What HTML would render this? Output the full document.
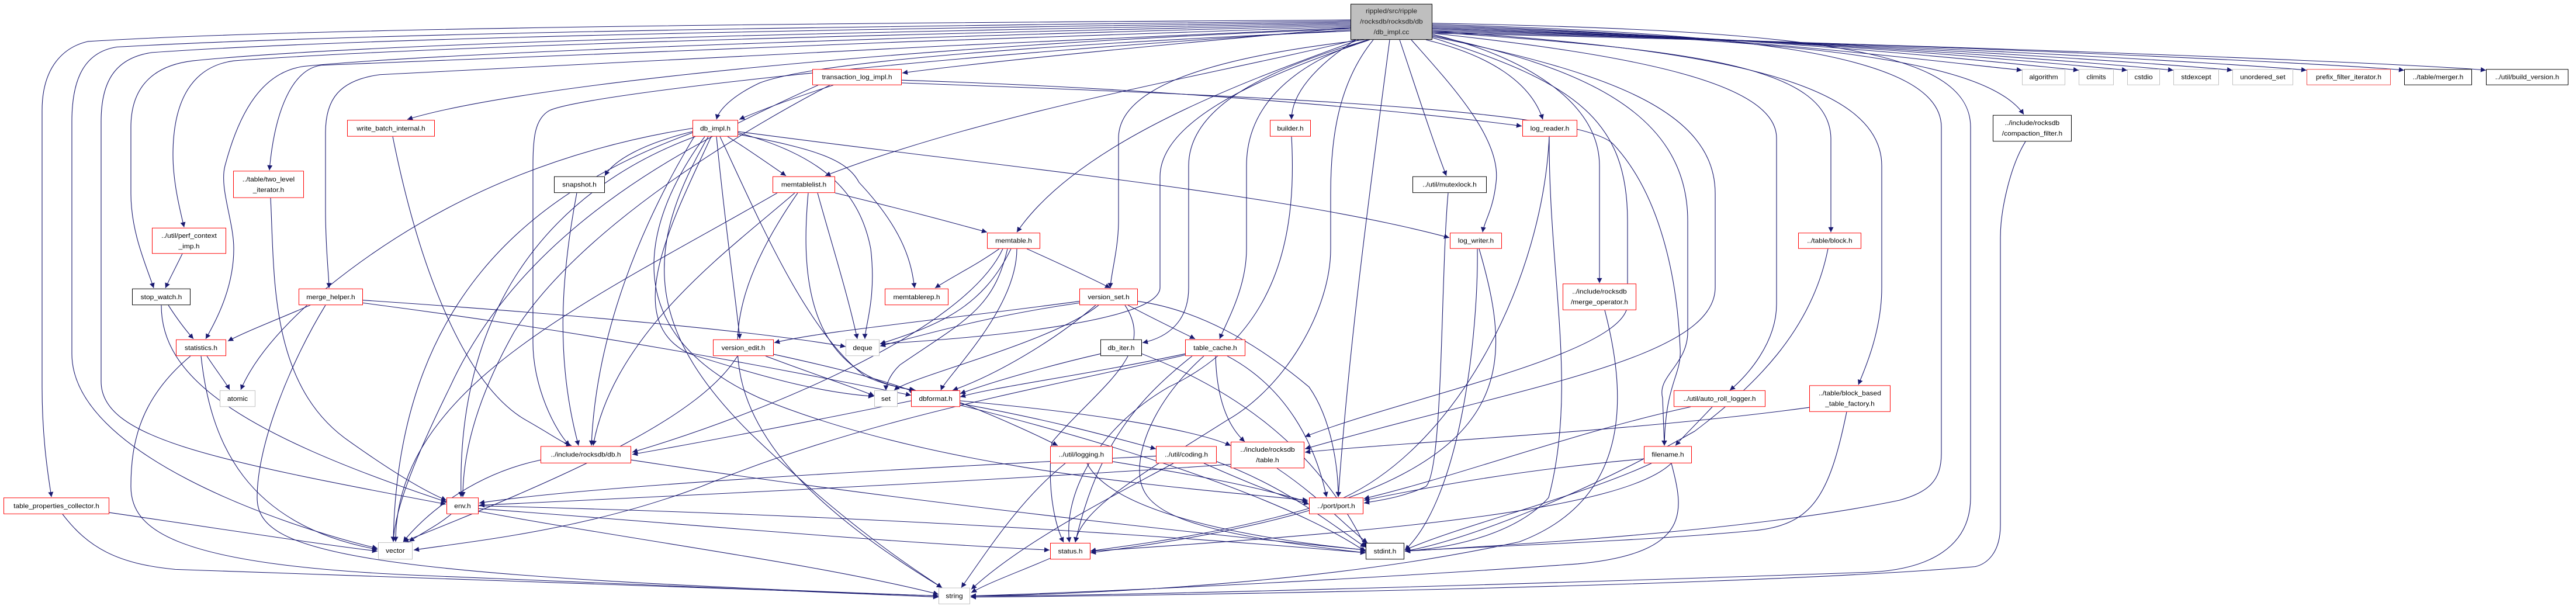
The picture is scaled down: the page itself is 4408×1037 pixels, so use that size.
<!DOCTYPE html>
<html><head><meta charset="utf-8">
<style>
html,body{margin:0;padding:0;background:#fff;overflow:hidden;}
#c{position:relative;width:4408px;height:1037px;overflow:hidden;background:#fff;}
#w{position:absolute;left:0;top:0;width:4408px;height:1100px;transform:scaleY(0.946);transform-origin:0 0;}
svg{position:absolute;left:0;top:0;}
.n{position:absolute;box-sizing:border-box;background:#fff;border:1.6px solid #f00;font-family:"Liberation Sans",sans-serif;font-size:12px;color:#000;display:flex;align-items:center;justify-content:center;text-align:center;line-height:19px;white-space:nowrap;}
.k{border-color:#000;}
.g{border-color:#c0c0c0;}
.r{border-color:#f00;}
</style></head><body>
<div id="c"><div id="w">
<svg id="s" width="4408" height="1100" viewBox="0 0 4408 1100">
<defs><marker id="a" viewBox="0 0 10 10" refX="10" refY="5" markerWidth="12" markerHeight="9" markerUnits="userSpaceOnUse" orient="auto"><path d="M0,0 L10,5 L0,10 z" fill="#191970"/></marker></defs>
<g id="e" fill="none" stroke="#191970" stroke-width="1.1" marker-end="url(#a)"></g>
</svg>

<div class="n k" style="left:2311px;top:7px;width:140px;height:65px;background:#bfbfbf;color:#222">rippled/src/ripple<br>/rocksdb/rocksdb/db<br>/db_impl.cc</div>

<div class="n r" style="left:6px;top:900px;width:181px;height:30px">table_properties_collector.h</div>
<div class="n k" style="left:226px;top:522px;width:100px;height:30px">stop_watch.h</div>
<div class="n r" style="left:260px;top:412px;width:127px;height:47px">../util/perf_context<br>_imp.h</div>
<div class="n r" style="left:399px;top:309px;width:121px;height:49px">../table/two_level<br>_iterator.h</div>
<div class="n r" style="left:594px;top:217px;width:150px;height:30px">write_batch_internal.h</div>
<div class="n r" style="left:511px;top:522px;width:110px;height:30px">merge_helper.h</div>
<div class="n r" style="left:301px;top:614px;width:86px;height:30px">statistics.h</div>
<div class="n g" style="left:376px;top:706px;width:61px;height:30px">atomic</div>
<div class="n k" style="left:948px;top:319px;width:87px;height:30px">snapshot.h</div>
<div class="n r" style="left:925px;top:807px;width:155px;height:31px">../include/rocksdb/db.h</div>
<div class="n r" style="left:764px;top:900px;width:55px;height:30px">env.h</div>
<div class="n g" style="left:647px;top:981px;width:59px;height:31px">vector</div>

<div class="n r" style="left:1390px;top:125px;width:153px;height:29px">transaction_log_impl.h</div>
<div class="n r" style="left:1185px;top:217px;width:78px;height:30px">db_impl.h</div>
<div class="n r" style="left:1322px;top:319px;width:107px;height:30px">memtablelist.h</div>
<div class="n r" style="left:1689px;top:421px;width:91px;height:29px">memtable.h</div>
<div class="n r" style="left:1514px;top:522px;width:109px;height:30px">memtablerep.h</div>
<div class="n r" style="left:1847px;top:522px;width:100px;height:30px">version_set.h</div>
<div class="n r" style="left:1220px;top:614px;width:104px;height:30px">version_edit.h</div>
<div class="n g" style="left:1447px;top:614px;width:58px;height:30px">deque</div>
<div class="n k" style="left:1883px;top:614px;width:71px;height:30px">db_iter.h</div>
<div class="n r" style="left:2028px;top:614px;width:103px;height:30px">table_cache.h</div>
<div class="n g" style="left:1496px;top:706px;width:40px;height:30px">set</div>
<div class="n r" style="left:1559px;top:706px;width:84px;height:30px">dbformat.h</div>
<div class="n r" style="left:1797px;top:807px;width:107px;height:31px">../util/logging.h</div>
<div class="n r" style="left:1978px;top:807px;width:104px;height:31px">../util/coding.h</div>
<div class="n r" style="left:2106px;top:799px;width:126px;height:48px">../include/rocksdb<br>/table.h</div>
<div class="n r" style="left:1797px;top:982px;width:69px;height:30px">status.h</div>
<div class="n g" style="left:1606px;top:1063px;width:54px;height:30px">string</div>
<div class="n r" style="left:2173px;top:217px;width:70px;height:30px">builder.h</div>

<div class="n r" style="left:2605px;top:217px;width:94px;height:30px">log_reader.h</div>
<div class="n k" style="left:2417px;top:319px;width:127px;height:30px">../util/mutexlock.h</div>
<div class="n r" style="left:2481px;top:421px;width:89px;height:29px">log_writer.h</div>
<div class="n r" style="left:3077px;top:421px;width:108px;height:29px">../table/block.h</div>
<div class="n r" style="left:2674px;top:513px;width:126px;height:48px">../include/rocksdb<br>/merge_operator.h</div>
<div class="n r" style="left:2864px;top:706px;width:157px;height:30px">../util/auto_roll_logger.h</div>
<div class="n r" style="left:3096px;top:697px;width:139px;height:48px">../table/block_based<br>_table_factory.h</div>
<div class="n r" style="left:2813px;top:807px;width:82px;height:31px">filename.h</div>
<div class="n r" style="left:2240px;top:900px;width:93px;height:30px">../port/port.h</div>
<div class="n k" style="left:2337px;top:982px;width:66px;height:30px">stdint.h</div>

<div class="n g" style="left:3460px;top:125px;width:74px;height:29px">algorithm</div>
<div class="n g" style="left:3557px;top:125px;width:60px;height:29px">climits</div>
<div class="n g" style="left:3640px;top:125px;width:56px;height:29px">cstdio</div>
<div class="n g" style="left:3719px;top:125px;width:78px;height:29px">stdexcept</div>
<div class="n g" style="left:3820px;top:125px;width:104px;height:29px">unordered_set</div>
<div class="n r" style="left:3947px;top:125px;width:144px;height:29px;border-color:#e44">prefix_filter_iterator.h</div>
<div class="n k" style="left:4114px;top:125px;width:116px;height:29px">../table/merger.h</div>
<div class="n k" style="left:4254px;top:125px;width:141px;height:29px">../util/build_version.h</div>
<div class="n k" style="left:3410px;top:208px;width:135px;height:48px">../include/rocksdb<br>/compaction_filter.h</div>
</div></div>
<script>
var P=[
"M2311,36 C1800,40 600,45 150,75 C110,85 72,120 72,200 L72,700 C72,800 84,870 88,899",
"M2311,38 C1800,44 700,55 200,85 C140,95 123,150 123,220 L123,640 C123,820 480,950 646,992",
"M2311,40 C1800,48 700,62 260,95 C195,105 173,150 173,220 L173,690 C173,790 350,830 763,912",
"M2311,42 C1800,52 700,70 330,110 C250,120 224,170 224,230 L224,350 C224,420 250,480 263,521",
"M2311,44 C1800,56 800,78 400,110 C330,120 296,180 296,280 C296,330 308,380 315,411",
"M2311,46 C1800,60 800,90 520,120 C450,130 410,200 385,300 C375,340 400,400 400,450 C400,520 370,580 352,613",
"M2311,48 C1800,65 900,100 550,118 C500,125 470,200 461,308",
"M2311,50 C1800,72 900,120 650,135 C580,145 557,180 557,240 L557,380 C557,450 563,500 563,521",
"M2311,52 C1600,80 900,150 697,216",
"M2311,54 C1600,100 1000,170 940,200 C915,215 912,250 912,300 L912,620 C912,700 950,780 975,806",
"M2311,50 C2000,80 1700,110 1544,132",
"M2311,56 C1800,80 1400,110 1300,150 C1250,175 1230,200 1226,216",
"M2320,72 C2100,130 1700,200 1412,318",
"M2325,72 C2150,140 1850,250 1740,420",
"M2335,72 C2100,100 1914,150 1914,250 L1914,400 C1914,450 1900,500 1900,521",
"M2340,72 C2200,120 2133,200 2133,300 L2133,450 C2133,520 2100,580 2087,613",
"M2342,72 C2150,130 2034,200 2034,300 L2034,520 C2034,580 2000,610 1955,620",
"M2344,72 C2150,140 1985,220 1985,320 L1985,520 C1985,580 1700,610 1506,622",
"M2320,72 C2250,120 2210,170 2210,216",
"M2440,72 C2550,100 2620,150 2640,216",
"M2395,72 C2420,150 2450,250 2475,318",
"M2415,72 C2480,150 2570,250 2560,330 C2555,380 2540,400 2537,420",
"M2378,72 C2350,300 2310,600 2290,899",
"M2350,72 C2290,150 2277,250 2277,350 L2277,450 C2277,560 2200,700 2100,760 C1950,860 1850,920 1840,981",
"M2451,62 C2600,100 2737,180 2737,300 L2737,512",
"M2451,58 C2900,90 3130,120 3133,250 L3133,420",
"M2451,56 C2950,90 3220,150 3220,300 L3220,520 C3220,600 3190,670 3180,696",
"M2451,60 C2800,100 3040,150 3040,250 L3040,550 C3040,620 2990,680 2960,706",
"M2451,64 C2700,120 2888,200 2888,400 L2888,600 C2888,660 2835,680 2845,720 L2848,806",
"M2451,66 C2750,130 2935,200 2935,350 L2935,520 C2935,650 2600,700 2233,812",
"M2451,68 C2700,150 2785,220 2785,400 L2785,550 C2785,640 2400,720 2233,790",
"M2451,44 C3000,60 3322,100 3322,230 L3322,820 C3322,870 3300,890 3250,905 C3000,960 2600,985 2404,997",
"M2451,42 C3100,55 3372,90 3372,230 L3372,900 C3372,990 3300,1030 3200,1035 C2800,1050 1900,1080 1661,1078",
"M3466,256 C3440,300 3423,380 3423,430 L3423,950 C3423,1000 3400,1020 3380,1025 C3000,1060 2000,1078 1661,1080",
"M2451,52 C3100,70 3400,110 3463,207",
"M1426,154 C1350,180 1300,200 1265,216",
"M1543,145 C2000,160 2400,200 2604,228",
"M1543,150 C2200,175 2700,200 2760,260 C2840,350 2870,500 2875,630 C2878,680 2850,690 2848,806",
"M1400,154 C1200,250 900,400 770,700 C700,850 675,930 673,980",
"M1420,154 C1300,220 1000,400 880,600 C800,750 792,850 792,899",
"M1245,247 C1280,270 1320,300 1345,318",
"M1263,243 C1400,270 1450,290 1470,330 C1550,420 1560,480 1565,521",
"M1263,240 C1400,280 1470,340 1490,450 C1500,540 1480,590 1480,613",
"M1226,247 C1240,400 1260,550 1266,613",
"M1232,247 C1300,400 1380,600 1480,680 C1520,700 1560,705 1565,706",
"M1217,247 C1150,400 1060,580 1180,640 C1300,680 1400,710 1495,717",
"M1263,238 C1700,300 2200,350 2480,430",
"M1206,247 C1100,400 1050,600 1300,720 C1600,850 2000,880 2238,905",
"M1212,247 C1100,450 1100,600 1300,800 C1450,950 1550,1020 1612,1063",
"M1185,238 C1100,260 1050,290 1035,318",
"M1188,247 C1100,400 1020,600 1012,806",
"M1185,232 C900,280 700,400 560,520 C470,600 430,660 412,705",
"M1190,247 C1000,320 780,500 789,899",
"M1185,240 C900,350 680,550 673,980",
"M1429,349 C1550,380 1620,400 1689,420",
"M1399,349 C1420,430 1450,530 1467,613",
"M1383,349 C1370,500 1380,680 1567,706",
"M1360,349 C1250,450 1050,600 1015,806",
"M1365,349 C1200,600 1200,800 1612,1063",
"M1330,349 C1000,550 677,700 677,980",
"M1710,450 C1670,480 1630,500 1600,521",
"M1757,450 C1820,480 1870,505 1900,521",
"M1730,450 C1680,560 1600,590 1506,622",
"M1740,450 C1740,560 1620,680 1610,706",
"M1724,450 C1700,560 1650,580 1540,660 C1520,680 1516,700 1516,706",
"M1716,450 C1650,600 1300,750 1082,818",
"M1847,545 C1600,580 1400,600 1325,620",
"M1847,548 C1700,570 1600,600 1506,626",
"M1880,552 C1800,620 1560,680 1530,706",
"M1875,552 C1800,620 1700,680 1630,706",
"M1930,552 C1980,580 2020,600 2045,613",
"M1947,545 C2050,560 2150,620 2240,700 C2280,760 2290,850 2290,899",
"M1925,552 C1980,640 1880,700 1800,800 C1790,900 1810,960 1820,981",
"M1310,644 C1400,680 1460,700 1496,716",
"M1320,640 C1450,670 1520,690 1567,710",
"M1262,644 C1200,750 1000,850 690,980",
"M1883,640 C1800,660 1700,690 1643,712",
"M1954,640 C2100,700 2250,800 2337,990",
"M2028,640 C1850,680 1700,700 1643,718",
"M2080,644 C2082,720 2100,770 2130,799",
"M2060,644 C1980,720 1950,800 1950,850 C1950,920 2000,960 2337,1000",
"M2100,644 C2200,700 2250,800 2270,899",
"M2040,644 C1950,720 1880,800 1840,981",
"M2028,642 C1800,700 1500,750 1200,880 C1000,960 800,980 708,995",
"M1559,725 C1400,760 1200,800 1082,822",
"M1643,728 C1720,760 1780,790 1810,806",
"M1643,730 C1800,760 1900,790 1978,812",
"M1643,725 C1900,750 2050,780 2106,806",
"M1643,733 C1900,800 2200,900 2337,998",
"M1823,838 C1750,900 1700,980 1645,1063",
"M1904,835 C2050,860 2150,880 2238,908",
"M1860,838 C1900,920 2100,970 2337,995",
"M2008,838 C1900,900 1750,980 1662,1066",
"M2060,838 C2150,880 2200,900 2240,912",
"M2082,835 C2200,880 2280,950 2337,990",
"M1978,825 C1500,850 1000,880 820,910",
"M2185,847 C2260,900 2300,950 2340,982",
"M2106,840 C1700,870 1100,900 820,914",
"M1797,1010 C1730,1040 1690,1055 1662,1072",
"M772,930 C750,950 720,965 700,980",
"M819,925 C1100,980 1400,1020 1606,1075",
"M819,920 C1200,950 1500,980 1796,995",
"M819,915 C1400,930 1900,960 2337,1000",
"M925,832 C800,860 720,940 690,980",
"M1080,832 C1500,900 2000,960 2337,995",
"M2813,830 C2600,850 2450,880 2334,905",
"M2826,838 C2700,900 2500,950 2404,995",
"M2860,838 C2780,920 2400,960 1866,997",
"M2860,838 C2880,920 2900,1000 2700,1020 C2300,1050 1900,1070 1661,1078",
"M2930,736 C2900,770 2880,790 2867,806",
"M2893,736 C2700,780 2500,860 2334,902",
"M3096,737 C2800,780 2400,800 2233,818",
"M3160,745 C3130,900 3100,950 3000,960 C2800,980 2500,990 2404,997",
"M3128,450 C3100,600 3000,700 2900,780 C2700,900 2500,980 2404,997",
"M2746,561 C2780,700 2800,900 2600,980 C2300,1050 1900,1075 1661,1078",
"M2528,450 C2530,600 2500,900 2404,995",
"M2531,450 C2600,700 2600,900 1866,1000",
"M2651,247 C2650,500 2700,700 2650,900 C2600,960 2500,990 2404,997",
"M2651,247 C2640,500 2500,800 2300,900 C2100,970 1900,990 1866,997",
"M2478,349 C2465,500 2470,850 2440,880 C2400,900 2360,905 2334,910",
"M2210,247 C2218,400 2200,600 2000,700 C1870,780 1820,900 1830,981",
"M672,247 C720,500 800,700 900,760 C950,790 960,800 978,806",
"M463,358 C470,500 460,700 600,800 C680,860 730,890 764,905",
"M312,459 C300,485 290,505 283,521",
"M288,552 C305,580 320,600 331,613",
"M276,552 C276,680 400,780 764,908",
"M531,552 C470,580 420,600 390,617",
"M621,543 C1000,570 1300,600 1447,627",
"M621,548 C1000,600 1300,660 1559,715",
"M557,552 C500,650 440,800 440,900 C440,1000 600,1040 1606,1078",
"M354,644 C370,670 385,690 393,705",
"M344,644 C360,800 420,950 646,994",
"M326,644 C240,720 224,800 224,880 C224,960 300,1020 700,1040 C1100,1060 1400,1070 1606,1080",
"M186,927 C400,960 550,985 646,997",
"M107,930 C150,990 200,1020 300,1030 C800,1050 1300,1065 1606,1078",
"M987,349 C960,500 950,650 990,806"
];
var tops=[3460,3557,3640,3719,3820,3947,4114,4254];
tops.forEach(function(L,i){P.push("M2451,"+(46+i*2)+" C"+(2451+(L-2451)*0.5)+","+(60+i*3)+" "+(L-120)+",115 "+L+",127");});
var g=document.getElementById("e"),h="";
P.forEach(function(d){h+='<path d="'+d+'"/>';});
g.innerHTML=h;
</script>
</body></html>
